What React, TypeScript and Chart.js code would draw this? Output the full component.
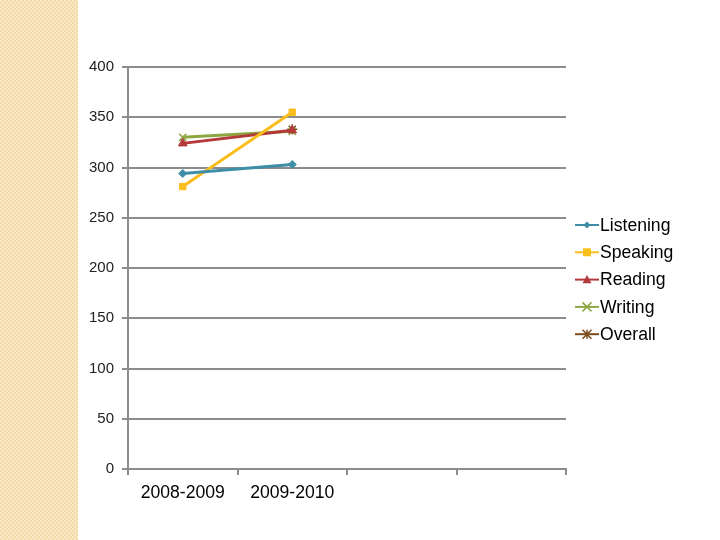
import React, { useEffect, useRef } from "react";
import { Chart, registerables } from "chart.js";

Chart.register(...registerables);

const categories = ["2008-2009", "2009-2010", "", ""];
const seriesNames = ["Listening", "Speaking", "Reading", "Writing", "Overall"];
const listening = [294, 303, null, null];
const speaking = [281, 355, null, null];
const reading = [324, 337, null, null];
const writing = [330, 336, null, null];
const overall = [null, 338, null, null];
const yTicks = [0, 50, 100, 150, 200, 250, 300, 350, 400];

const colors = ["#3F8EA8", "#F9BD1C", "#B3393A", "#8CA740", "#7B4A1E"];
const pointStyles = ["rectRot", "rect", "triangle", "crossRot", "star"];
const pointRadii = [4, 4.5, 5, 5, 5];

function drawMarker(ctx: CanvasRenderingContext2D, style: string, x: number, y: number, r: number, color: string) {
  ctx.save();
  ctx.fillStyle = color;
  ctx.strokeStyle = color;
  ctx.lineWidth = 1.5;
  ctx.beginPath();
  if (style === "rectRot") {
    ctx.moveTo(x, y - r);
    ctx.lineTo(x + r, y);
    ctx.lineTo(x, y + r);
    ctx.lineTo(x - r, y);
    ctx.closePath();
    ctx.fill();
  } else if (style === "rect") {
    ctx.rect(x - r, y - r, 2 * r, 2 * r);
    ctx.fill();
  } else if (style === "triangle") {
    ctx.moveTo(x, y - r);
    ctx.lineTo(x + r, y + r * 0.8);
    ctx.lineTo(x - r, y + r * 0.8);
    ctx.closePath();
    ctx.fill();
  } else if (style === "crossRot") {
    ctx.moveTo(x - r, y - r);
    ctx.lineTo(x + r, y + r);
    ctx.moveTo(x + r, y - r);
    ctx.lineTo(x - r, y + r);
    ctx.stroke();
  } else if (style === "star") {
    ctx.moveTo(x - r, y - r);
    ctx.lineTo(x + r, y + r);
    ctx.moveTo(x + r, y - r);
    ctx.lineTo(x - r, y + r);
    ctx.moveTo(x, y - r);
    ctx.lineTo(x, y + r);
    ctx.stroke();
  }
  ctx.restore();
}

const legendPlugin = {
  id: "customLegend",
  afterDraw(chart: any) {
    const ctx = chart.ctx as CanvasRenderingContext2D;
    const x0 = 575;
    const y0 = 225;
    const gap = 27.3;
    ctx.save();
    chart.data.datasets.forEach((ds: any, i: number) => {
      const y = y0 + i * gap;
      ctx.strokeStyle = colors[i];
      ctx.lineWidth = 2;
      ctx.beginPath();
      ctx.moveTo(x0, y);
      ctx.lineTo(x0 + 24, y);
      ctx.stroke();
      drawMarker(ctx, pointStyles[i], x0 + 12, y, pointRadii[i] - 0.5, colors[i]);
      ctx.fillStyle = "#000000";
      ctx.font = "17.6px 'Liberation Sans', Arial, sans-serif";
      ctx.textBaseline = "middle";
      ctx.textAlign = "left";
      ctx.fillText(ds.label, x0 + 25, y + 1);
    });
    ctx.restore();
  },
};

export default function App() {
  const ref = useRef<HTMLCanvasElement | null>(null);

  useEffect(() => {
    if (!ref.current) return;
    const allSeries = [listening, speaking, reading, writing, overall];
    const chart = new Chart(ref.current, {
      type: "line",
      data: {
        labels: categories,
        datasets: allSeries.map((d, i) => ({
          label: seriesNames[i],
          data: d,
          borderColor: colors[i],
          backgroundColor: colors[i],
          borderWidth: 3,
          pointStyle: pointStyles[i] as any,
          pointRadius: pointRadii[i],
          pointBorderWidth: i >= 3 ? 1.5 : 1,
          pointBorderColor: colors[i],
          pointBackgroundColor: colors[i],
          tension: 0,
          fill: false,
        })),
      },
      options: {
        responsive: false,
        animation: false,
        layout: { padding: { left: 0, right: 154, top: 67, bottom: 0 } },
        plugins: {
          legend: { display: false },
          tooltip: { enabled: false },
        },
        scales: {
          x: {
            offset: true,
            grid: {
              offset: true,
              drawOnChartArea: false,
              drawTicks: true,
              tickLength: 6,
              color: "#8C8C8C",
              lineWidth: 2,
            },
            border: { color: "#8C8C8C", width: 2 },
            ticks: {
              color: "#000000",
              font: { family: "'Liberation Sans', Arial, sans-serif", size: 17.6 },
              padding: 8,
              maxRotation: 0,
              autoSkip: false,
            },
            afterFit(scale: any) {
              scale.height = 71;
            },
          },
          y: {
            min: 0,
            max: 400,
            afterBuildTicks(scale: any) {
              scale.ticks = yTicks.map((v) => ({ value: v }));
            },
            grid: {
              color: "#8C8C8C",
              lineWidth: 2,
              tickLength: 6,
            },
            border: { color: "#8C8C8C", width: 2 },
            ticks: {
              color: "#222222",
              font: { family: "'Liberation Sans', Arial, sans-serif", size: 15 },
              padding: 8,
            },
            afterFit(scale: any) {
              scale.width = 128;
            },
          },
        },
      },
      plugins: [legendPlugin],
    });
    return () => chart.destroy();
  }, []);

  return (
    <div style={{ position: "fixed", left: 0, top: 0, width: 720, height: 540, background: "#ffffff" }}>
      <div
        style={{
          position: "absolute",
          left: 0,
          top: 0,
          width: 78,
          height: 540,
          background: "repeating-conic-gradient(#F2DAA8 0 25%, #FAEAC8 0 50%) 0 0 / 4px 4px",
        }}
      />
      <canvas ref={ref} width={720} height={540} style={{ position: "absolute", left: 0, top: 0 }} />
    </div>
  );
}
